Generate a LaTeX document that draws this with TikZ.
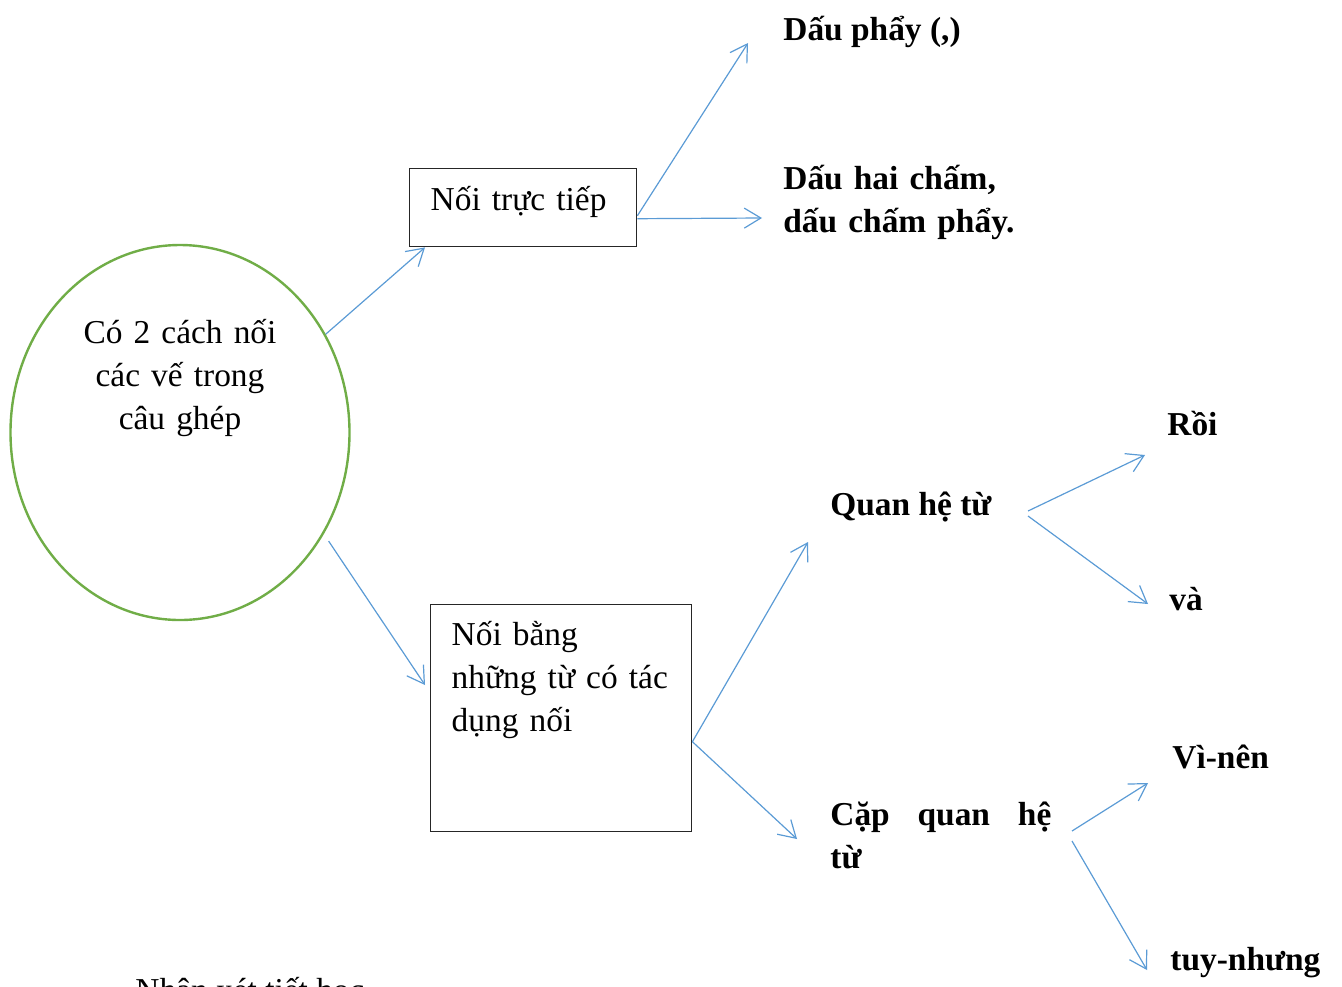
\documentclass[tikz,border=0pt]{standalone}
\usepackage{fontspec}
\setmainfont{Liberation Serif}
\usetikzlibrary{shapes.geometric,arrows.meta,positioning}
\definecolor{ovalgreen}{HTML}{70AD47}
\definecolor{linkblue}{HTML}{5B9BD5}
\newcommand{\docsize}{\fontsize{16.7}{21.5}\selectfont}
\tikzset{
  link/.style={draw=linkblue, line width=0.6pt,
    -{Straight Barb[length=8.3pt,width=10pt]}},
  box/.style={draw=black!85, line width=0.7pt, rectangle, inner sep=0pt,
    anchor=north west, align=left},
  leaf/.style={font=\docsize\bfseries, anchor=base west, inner sep=0pt},
}
\begin{document}
\begin{tikzpicture}[x=0.5pt, y=-0.5pt, font=\docsize]
\useasboundingbox (0,0) rectangle (1342,986);
% oval on the left
\node[ellipse, draw=ovalgreen, line width=1.2pt, inner sep=0pt,
  minimum width=169.5pt, minimum height=187.5pt] (ways) at (180,432.5) {};
\node[align=center, text width=110pt, anchor=base, inner sep=0pt]
  (waystext) at (180,343) {Có 2 cách nối\\các vế trong\\câu ghép};
% the two boxes
\node[box, inner xsep=10.5pt, text width=92.5pt, text height=21pt, text depth=18pt]
  (direct) at (409,168) {Nối trực tiếp};
\node[box, inner xsep=10.5pt, text width=109.5pt, text height=20.5pt, text depth=93pt]
  (words) at (430,604) {Nối bằng\\những từ có tác\\dụng nối};
% bold labels
\node[leaf] (comma) at (783,40) {Dấu phẩy (,)};
\node[leaf, text width=130pt, align=left] (colon) at (783,189) {Dấu hai chấm,\\dấu chấm phẩy.};
\node[leaf] (rel) at (830,515) {Quan hệ từ};
\node[leaf, text width=110.5pt, align=left] (pair) at (830,825)
  {\hbox to 110.5pt{Cặp\hfill quan\hfill hệ}\\từ};
\node[leaf] (roi) at (1167,435) {Rồi};
\node[leaf] (va) at (1169,610) {và};
\node[leaf] (vinen) at (1172,768) {Vì-nên};
\node[leaf] (tuy) at (1170,970) {tuy-nhưng};
\node[anchor=base west, inner sep=0pt] (note) at (135,1001) {Nhận xét tiết học};
% arrows
\draw[link] (ways.34) -- ([xshift=8pt]direct.south west);
\draw[link] ([xshift=3pt,yshift=-2.5pt]ways.-36) -- ([xshift=-2.5pt,yshift=-40.5pt]words.north west);
\draw[link] ([yshift=-4pt]direct.east) -- ([xshift=-17.5pt,yshift=-1.5pt]comma.base west);
\draw[link] ([yshift=-5.5pt]direct.east) -- ([xshift=-10.5pt,yshift=-14.5pt]colon.base west);
\draw[link] ([yshift=-11.75pt]words.east) -- ([xshift=-11pt,yshift=-13.5pt]rel.base west);
\draw[link] ([yshift=-11.75pt]words.east) -- ([xshift=-16.5pt,yshift=-7pt]pair.base west);
\draw[link] ([xshift=99pt,yshift=2pt]rel.base west) -- ([xshift=-11pt,yshift=-10pt]roi.base west);
\draw[link] ([xshift=99pt,yshift=-0.5pt]rel.base west) -- ([xshift=-10.5pt,yshift=3pt]va.base west);
\draw[link] ([xshift=121pt,yshift=-3pt]pair.base west) -- ([xshift=-12pt,yshift=-7.5pt]vinen.base west);
\draw[link] ([xshift=121pt,yshift=-8pt]pair.base west) -- ([xshift=-11.5pt]tuy.base west);
\end{tikzpicture}
\end{document}
